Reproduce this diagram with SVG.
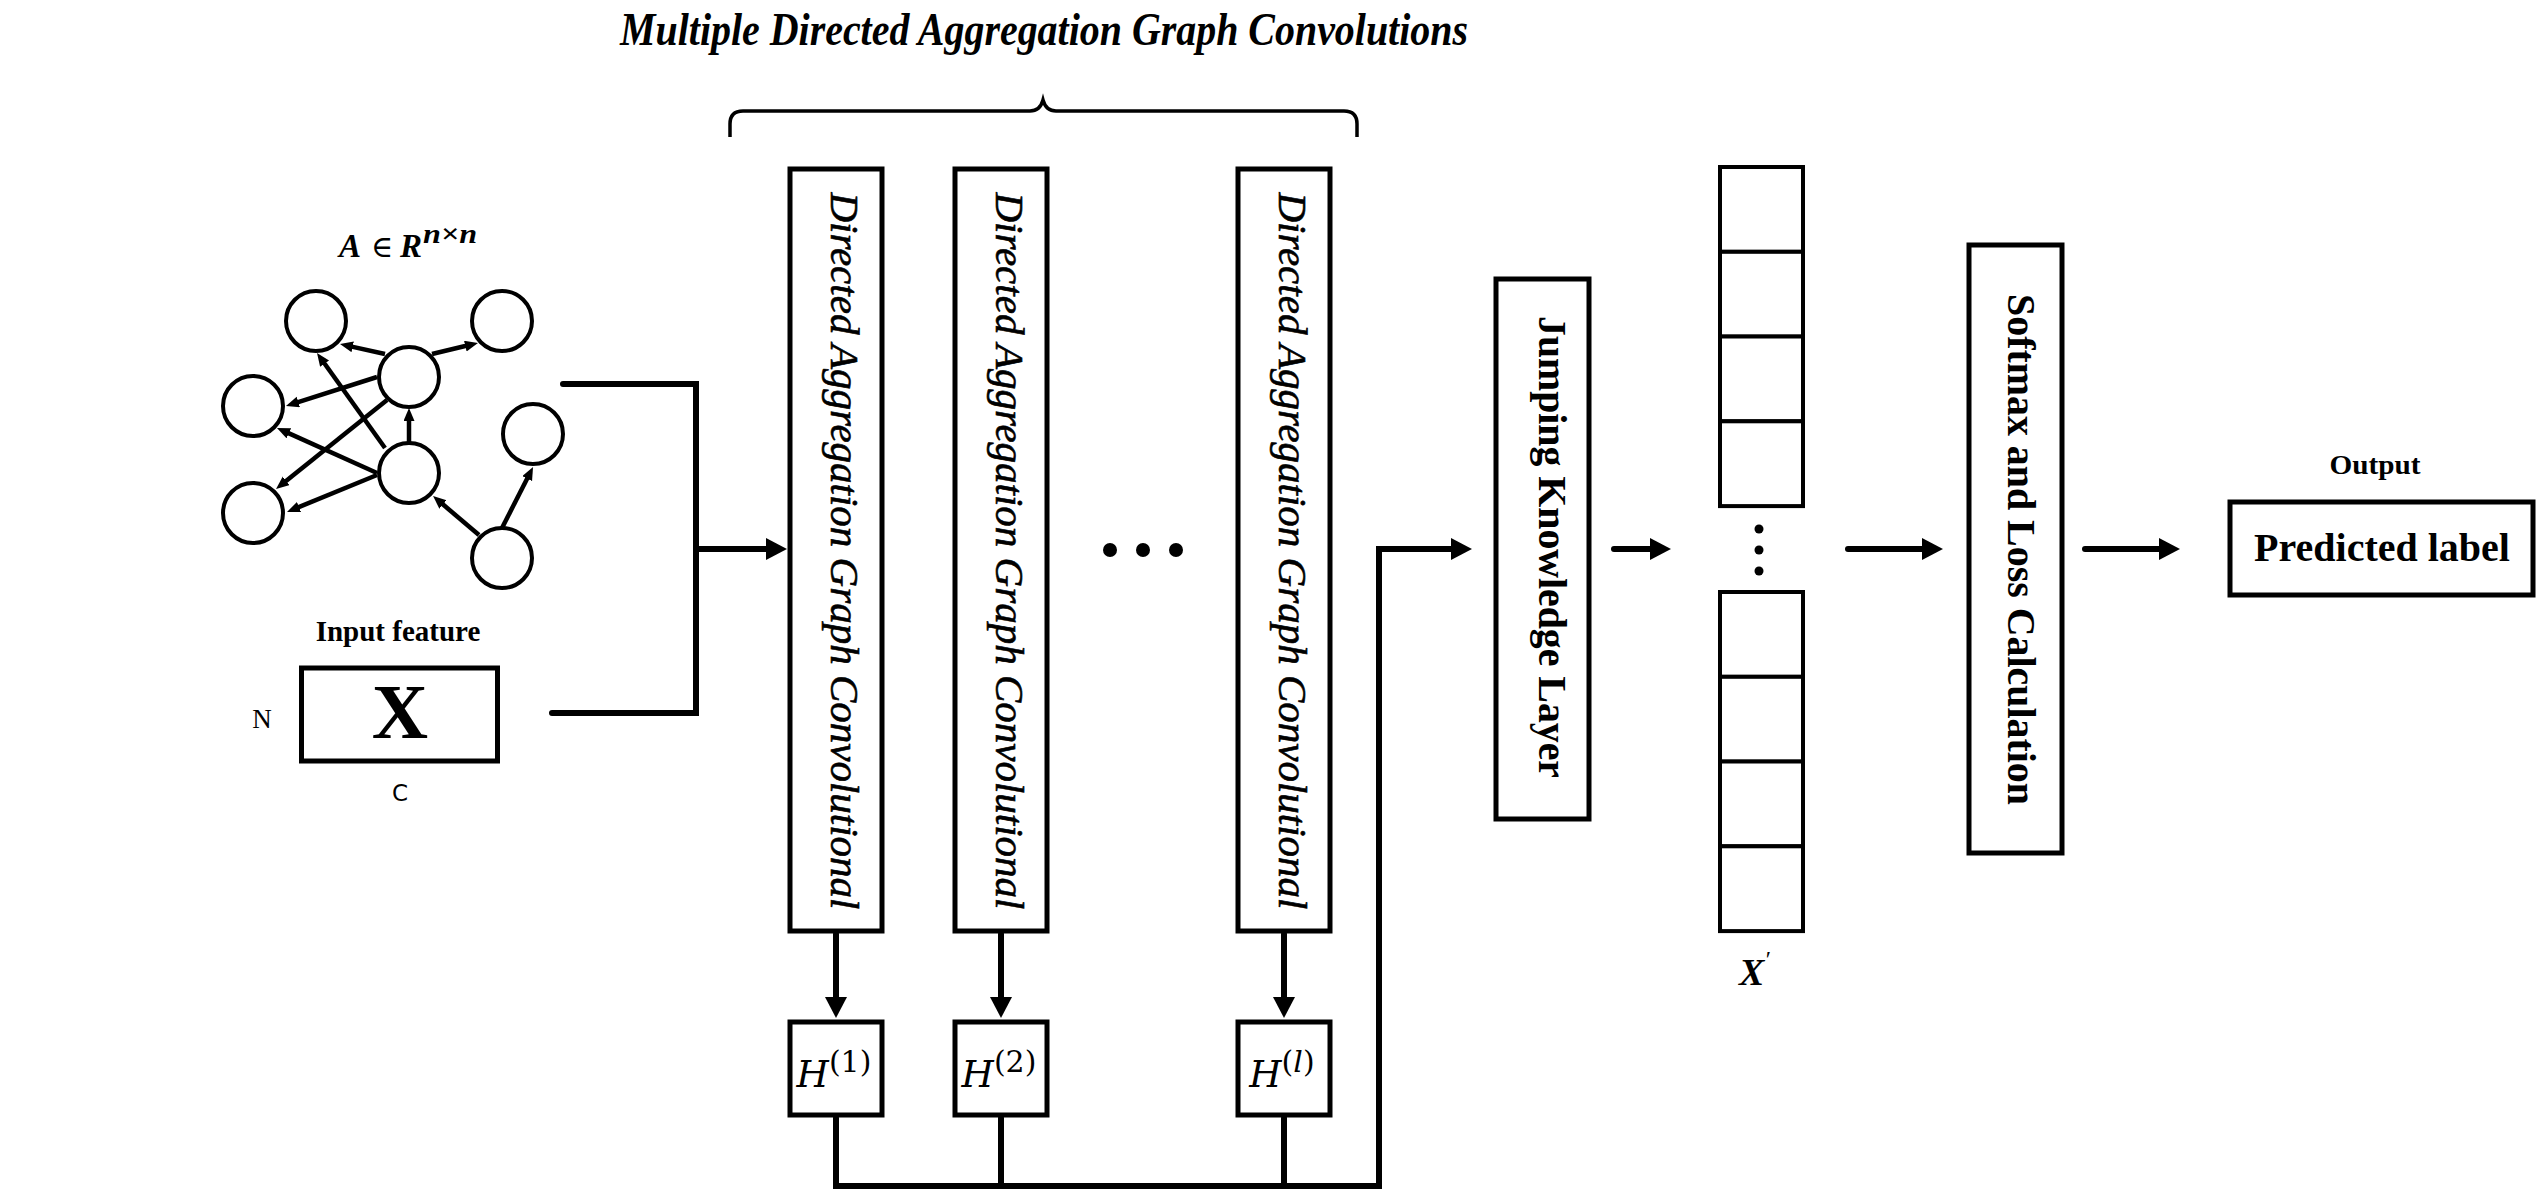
<svg xmlns="http://www.w3.org/2000/svg" width="2539" height="1191" viewBox="0 0 2539 1191">
<defs>
<style>
.box{fill:#fff;stroke:#000;stroke-width:5}
.cell{fill:#fff;stroke:#000;stroke-width:4}
.gn{fill:#fff;stroke:#000;stroke-width:4}
.ge{stroke:#000;stroke-width:4.5;fill:none}
.wire{stroke:#000;stroke-width:6;fill:none;stroke-linecap:round;stroke-linejoin:miter}
.serif{font-family:"Liberation Serif","Times New Roman",serif}
.b{font-weight:bold}
.i{font-style:italic}
.vt{font-family:"Liberation Serif","Times New Roman",serif;font-style:italic;font-size:39px;stroke:#000;stroke-width:0.6}
.vb{font-family:"Liberation Serif","Times New Roman",serif;font-weight:bold;font-size:40px}
.math{font-family:"DejaVu Serif",serif}
</style>
<marker id="ah" markerUnits="userSpaceOnUse" markerWidth="22" markerHeight="22" refX="1" refY="11" orient="auto"><path d="M0,0 L21,11 L0,22 z" fill="#000"/></marker>
<marker id="gah" markerUnits="userSpaceOnUse" markerWidth="14" markerHeight="12" refX="1" refY="5.5" orient="auto"><path d="M0,0 L13,5.5 L0,11 z" fill="#000"/></marker>
</defs>
<rect x="0" y="0" width="2539" height="1191" fill="#fff"/>

<g id="title">
<text class="serif b i" x="1044" y="45" font-size="47" text-anchor="middle" textLength="848" lengthAdjust="spacingAndGlyphs">Multiple Directed Aggregation Graph Convolutions</text>
<path d="M730,137 V124 Q730,111 743,111 H1030 Q1040,111 1043,100 Q1046,111 1056,111 H1344 Q1357,111 1357,124 V137" fill="none" stroke="#000" stroke-width="3.5"/>
</g>

<g id="graph">
<text class="serif" y="257" font-size="33">
<tspan x="339" class="b i">A</tspan><tspan x="371" font-size="30" font-family="DejaVu Serif, serif">∈</tspan><tspan x="400" class="b i">R</tspan><tspan x="423" y="243" font-size="28" class="b i" textLength="54" lengthAdjust="spacingAndGlyphs">n×n</tspan>
</text>
<g id="graph-edges">
<line class="ge" x1="385" y1="354" x2="351.7" y2="346.6" marker-end="url(#gah)"/>
<line class="ge" x1="432" y1="354" x2="466.3" y2="345.8" marker-end="url(#gah)"/>
<line class="ge" x1="377" y1="377" x2="297.4" y2="402.4" marker-end="url(#gah)"/>
<line class="ge" x1="387" y1="400" x2="285.4" y2="481.5" marker-end="url(#gah)"/>
<line class="ge" x1="385" y1="448" x2="324" y2="362.8" marker-end="url(#gah)"/>
<line class="ge" x1="409" y1="443" x2="409" y2="420" marker-end="url(#gah)"/>
<line class="ge" x1="377" y1="473" x2="287.9" y2="432.9" marker-end="url(#gah)"/>
<line class="ge" x1="377" y1="475" x2="298.1" y2="507.4" marker-end="url(#gah)"/>
<line class="ge" x1="479" y1="535" x2="442.2" y2="503.8" marker-end="url(#gah)"/>
<line class="ge" x1="502" y1="528" x2="527.6" y2="477.7" marker-end="url(#gah)"/>
</g>
<circle class="gn" cx="316" cy="321" r="30"/>
<circle class="gn" cx="502" cy="321" r="30"/>
<circle class="gn" cx="409" cy="377" r="30"/>
<circle class="gn" cx="253" cy="406" r="30"/>
<circle class="gn" cx="409" cy="473" r="30"/>
<circle class="gn" cx="533" cy="434" r="30"/>
<circle class="gn" cx="253" cy="513" r="30"/>
<circle class="gn" cx="502" cy="558" r="30"/>
</g>

<g id="input-feature">
<text class="serif b" x="398" y="641" font-size="29" text-anchor="middle">Input feature</text>
<rect class="box" x="301.5" y="668" width="196" height="93"/>
<text class="serif b" x="400" y="738" font-size="78" text-anchor="middle">X</text>
<text class="serif" x="262" y="728" font-size="27" text-anchor="middle">N</text>
<text x="400" y="801" font-size="23" text-anchor="middle" font-family="DejaVu Sans, sans-serif">C</text>
</g>

<g id="dagc1">
<rect class="box" x="790" y="169" width="92" height="762"/>
<text class="vt" transform="translate(831,551) rotate(90)" text-anchor="middle" textLength="717" lengthAdjust="spacingAndGlyphs">Directed Aggregation Graph Convolutional</text>
</g>
<g id="dagc2">
<rect class="box" x="955" y="169" width="92" height="762"/>
<text class="vt" transform="translate(996,551) rotate(90)" text-anchor="middle" textLength="717" lengthAdjust="spacingAndGlyphs">Directed Aggregation Graph Convolutional</text>
</g>
<g id="dagc3">
<rect class="box" x="1238" y="169" width="92" height="762"/>
<text class="vt" transform="translate(1279,551) rotate(90)" text-anchor="middle" textLength="717" lengthAdjust="spacingAndGlyphs">Directed Aggregation Graph Convolutional</text>
</g>
<g id="ellipsis">
<circle cx="1110" cy="550" r="7"/>
<circle cx="1143" cy="550" r="7"/>
<circle cx="1176" cy="550" r="7"/>
</g>

<g id="h1">
<rect class="box" x="790" y="1022" width="92" height="93"/>
<text class="math" x="834" y="1087" font-size="37" text-anchor="middle"><tspan font-style="italic">H</tspan><tspan font-size="30" dy="-15">(1)</tspan></text>
</g>
<g id="h2">
<rect class="box" x="955" y="1022" width="92" height="93"/>
<text class="math" x="999" y="1087" font-size="37" text-anchor="middle"><tspan font-style="italic">H</tspan><tspan font-size="30" dy="-15">(2)</tspan></text>
</g>
<g id="hl">
<rect class="box" x="1238" y="1022" width="92" height="93"/>
<text class="math" x="1282" y="1087" font-size="37" text-anchor="middle"><tspan font-style="italic">H</tspan><tspan font-size="30" dy="-15">(<tspan font-style="italic">l</tspan>)</tspan></text>
</g>

<g id="jumping-knowledge">
<rect class="box" x="1496" y="279" width="93" height="540"/>
<text class="vb" transform="translate(1539,547) rotate(90)" text-anchor="middle" textLength="462" lengthAdjust="spacingAndGlyphs">Jumping Knowledge Layer</text>
</g>

<g id="vector-x">
<rect class="cell" x="1720" y="167" width="83" height="84.8"/>
<rect class="cell" x="1720" y="251.8" width="83" height="84.8"/>
<rect class="cell" x="1720" y="336.5" width="83" height="84.8"/>
<rect class="cell" x="1720" y="421.3" width="83" height="84.8"/>
<rect class="cell" x="1720" y="592" width="83" height="84.8"/>
<rect class="cell" x="1720" y="676.8" width="83" height="84.8"/>
<rect class="cell" x="1720" y="761.5" width="83" height="84.8"/>
<rect class="cell" x="1720" y="846.3" width="83" height="84.8"/>
<circle cx="1759" cy="529" r="4.5"/>
<circle cx="1759" cy="550" r="4.5"/>
<circle cx="1759" cy="571" r="4.5"/>
<text class="serif b i" x="1739" y="985" font-size="38">X<tspan font-size="24" font-weight="normal" dy="-18">′</tspan></text>
</g>

<g id="softmax-loss">
<rect class="box" x="1969" y="245" width="93" height="608"/>
<text class="vb" transform="translate(2008,549.5) rotate(90)" text-anchor="middle" textLength="511" lengthAdjust="spacingAndGlyphs">Softmax and Loss Calculation</text>
</g>

<g id="output">
<text class="serif b" x="2375" y="474" font-size="27" text-anchor="middle" textLength="91" lengthAdjust="spacingAndGlyphs">Output</text>
<rect class="box" x="2230" y="502" width="303" height="93"/>
<text class="serif b" x="2382" y="561" font-size="40" text-anchor="middle">Predicted label</text>
</g>

<g id="connectors">
<path class="wire" d="M563,384 H696 V713 H552"/>
<path class="wire" d="M696,549 H767" marker-end="url(#ah)"/>
<path class="wire" d="M836,934 V998" marker-end="url(#ah)"/>
<path class="wire" d="M1001,934 V998" marker-end="url(#ah)"/>
<path class="wire" d="M1284,934 V998" marker-end="url(#ah)"/>
<path class="wire" d="M836,1118 V1186 H1379 V549 H1452" marker-end="url(#ah)"/>
<path class="wire" d="M1001,1118 V1186"/>
<path class="wire" d="M1284,1118 V1186"/>
<path class="wire" d="M1614,549 H1651" marker-end="url(#ah)"/>
<path class="wire" d="M1848,549 H1923" marker-end="url(#ah)"/>
<path class="wire" d="M2085,549 H2160" marker-end="url(#ah)"/>
</g>
</svg>
